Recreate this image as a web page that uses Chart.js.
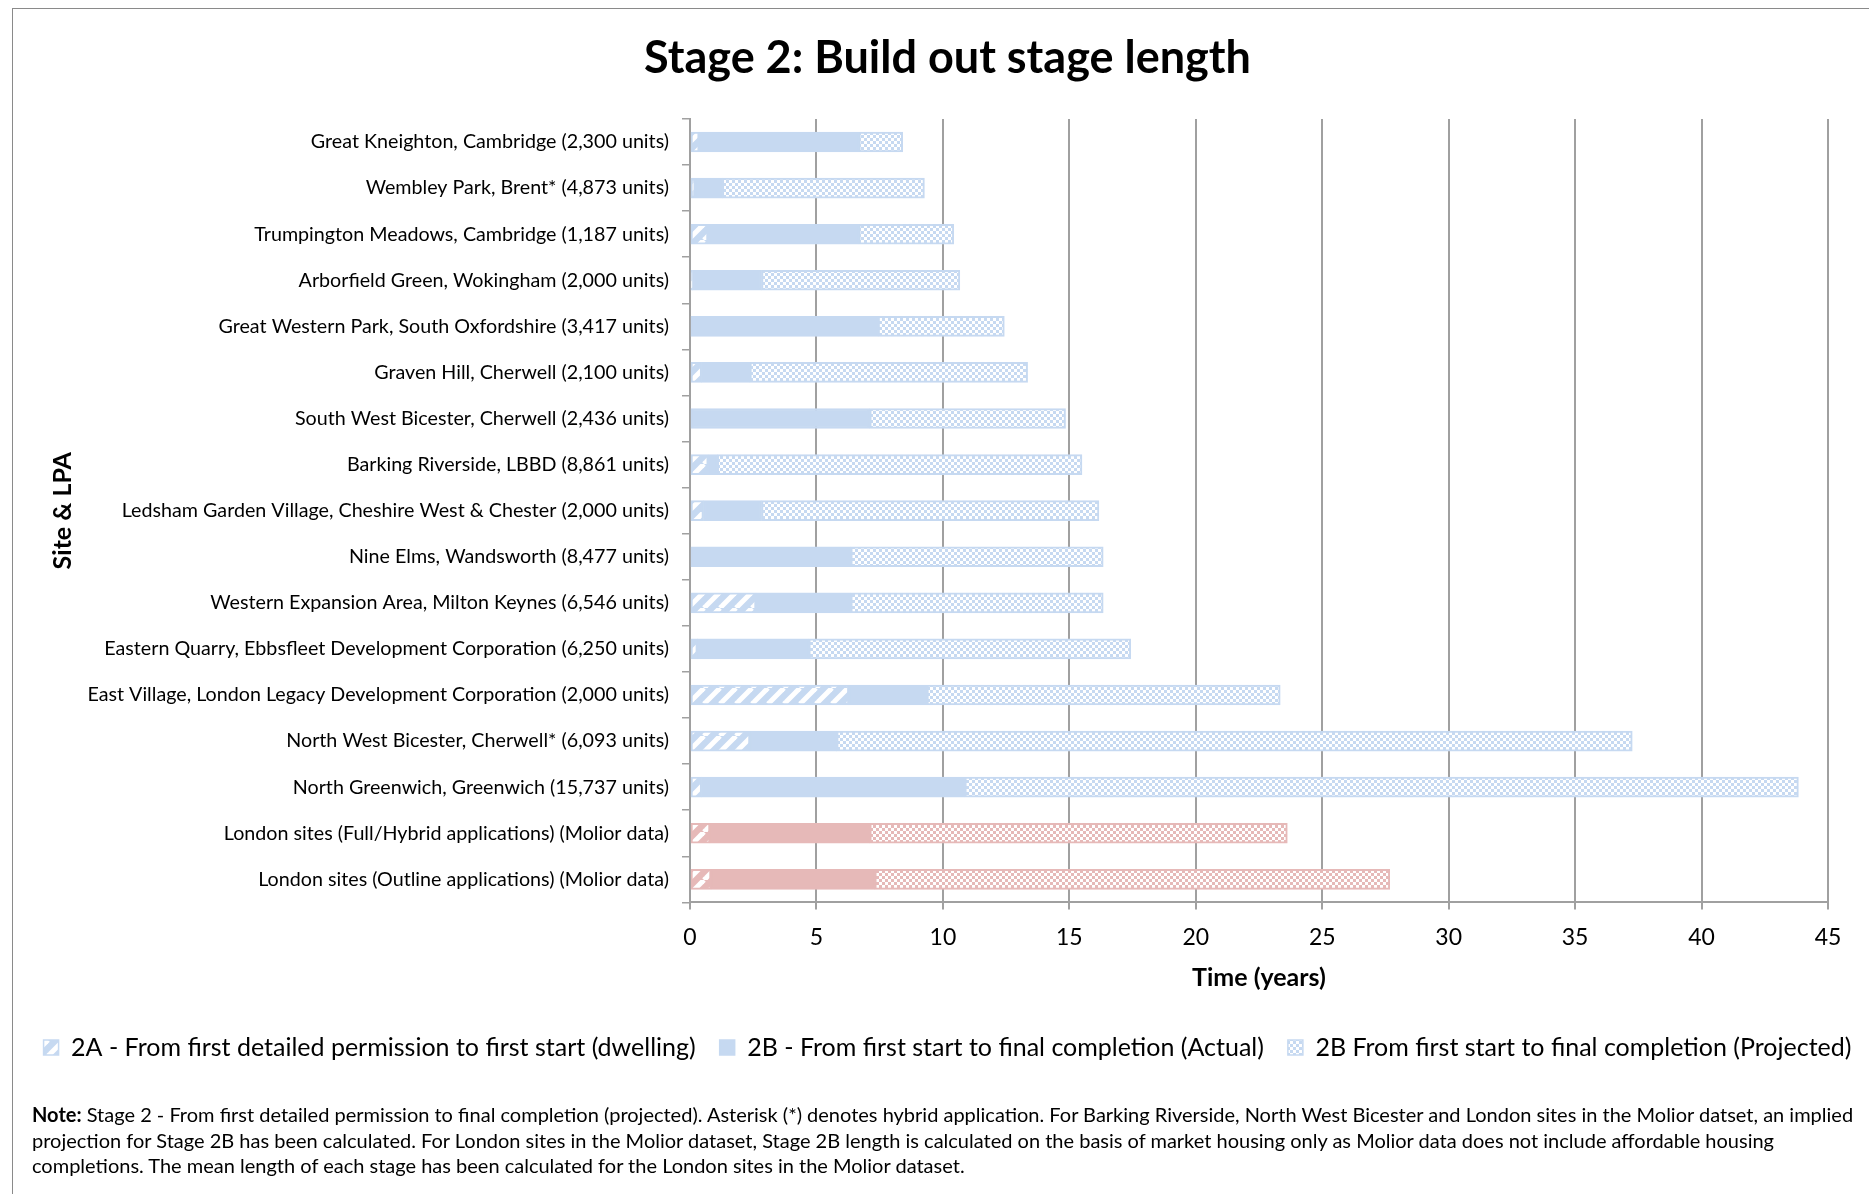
<!DOCTYPE html>
<html><head><meta charset="utf-8">
<script src="https://cdn.jsdelivr.net/npm/chart.js@4.4.1/dist/chart.umd.min.js"></script>
<style>
html,body{margin:0;padding:0;background:#fff;}
#wrap{position:relative;width:1869px;height:1194px;overflow:hidden;background:#fff;}
#frame{position:absolute;left:12px;top:8px;width:2000px;height:2000px;border-top:1.5px solid #8a8a8a;border-left:1.5px solid #8a8a8a;}
canvas{position:absolute;left:0;top:0;}
#note{position:absolute;left:32px;top:1102px;font-family:Lato;font-size:20px;line-height:25.5px;color:#000;white-space:nowrap;}
</style></head><body>
<div id="wrap"><div id="frame"></div><canvas id="c" width="1869" height="1194"></canvas>
<div id="note"><b>Note:</b> Stage 2 - From first detailed permission to final completion (projected). Asterisk (*) denotes hybrid application. For Barking Riverside, North West Bicester and London sites in the Molior datset, an implied<br>projection for Stage 2B has been calculated. For London sites in the Molior dataset, Stage 2B length is calculated on the basis of market housing only as Molior data does not include affordable housing<br>completions. The mean length of each stage has been calculated for the London sites in the Molior dataset.</div>
</div>
<script>
const categories = [
  "Great Kneighton, Cambridge (2,300 units)",
  "Wembley Park, Brent* (4,873 units)",
  "Trumpington Meadows, Cambridge (1,187 units)",
  "Arborfield Green, Wokingham (2,000 units)",
  "Great Western Park, South Oxfordshire (3,417 units)",
  "Graven Hill, Cherwell (2,100 units)",
  "South West Bicester, Cherwell (2,436 units)",
  "Barking Riverside, LBBD (8,861 units)",
  "Ledsham Garden Village, Cheshire West & Chester (2,000 units)",
  "Nine Elms, Wandsworth (8,477 units)",
  "Western Expansion Area, Milton Keynes (6,546 units)",
  "Eastern Quarry, Ebbsfleet Development Corporation (6,250 units)",
  "East Village, London Legacy Development Corporation (2,000 units)",
  "North West Bicester, Cherwell* (6,093 units)",
  "North Greenwich, Greenwich (15,737 units)",
  "London sites (Full/Hybrid applications) (Molior data)",
  "London sites (Outline applications) (Molior data)"
];
const stage2A          = [0.36, 0.20, 0.71, 0.10, 0.00, 0.46, 0.00, 0.72, 0.53, 0.00, 2.61, 0.29, 6.28, 2.37, 0.46, 0.79, 0.83];
const stage2BActual    = [6.32, 1.08, 5.97, 2.73, 7.44, 1.91, 7.11, 0.36, 2.30, 6.36, 3.75, 4.41, 3.09, 3.43, 10.41, 6.32, 6.48];
const stage2BProjected = [1.73, 7.99, 3.75, 7.84, 4.99, 10.98, 7.74, 14.42, 13.34, 9.98, 9.98, 12.73, 13.97, 31.46, 32.96, 16.51, 20.36];
const seriesNames = [
  "2A - From first detailed permission to first start (dwelling)",
  "2B - From first start to final completion (Actual)",
  "2B From first start to final completion (Projected)"
];
const xTickValues = [0, 5, 10, 15, 20, 25, 30, 35, 40, 45];

const BLUE = '#C6D9F1', PINK = '#E6B9B8';
const isMolior = i => categories[i] !== undefined && categories[i].indexOf('Molior') >= 0;

function diagPattern(col) {
  const c = document.createElement('canvas'); c.width = 16; c.height = 16;
  const g = c.getContext('2d');
  g.fillStyle = col; g.fillRect(0, 0, 16, 16);
  g.strokeStyle = '#fff'; g.lineWidth = 5;
  for (const o of [-16, 0, 16]) { g.beginPath(); g.moveTo(o, 16); g.lineTo(o + 16, 0); g.stroke(); }
  return g.createPattern(c, 'repeat');
}
function checkPattern(col) {
  const c = document.createElement('canvas'); c.width = 6; c.height = 6;
  const g = c.getContext('2d');
  g.fillStyle = '#fff'; g.fillRect(0, 0, 6, 6);
  g.fillStyle = col; g.fillRect(0, 0, 3, 3); g.fillRect(3, 3, 3, 3);
  return g.createPattern(c, 'repeat');
}
const pat = {
  blue: [diagPattern(BLUE), BLUE, checkPattern(BLUE)],
  pink: [diagPattern(PINK), PINK, checkPattern(PINK)]
};
const bg = k => ctx => (isMolior(ctx.dataIndex) ? pat.pink : pat.blue)[k];
const bd = ctx => isMolior(ctx.dataIndex) ? PINK : BLUE;

const seriesData = [stage2A, stage2BActual, stage2BProjected];
const datasets = seriesData.map((d, k) => ({
  label: seriesNames[k],
  data: d,
  backgroundColor: bg(k),
  borderColor: bd,
  borderWidth: 2,
  borderSkipped: false,
  barThickness: 20
}));

const GRID = '#A0A0A0';
const chart = new Chart(document.getElementById('c'), {
  type: 'bar',
  data: { labels: categories, datasets },
  options: {
    indexAxis: 'y',
    responsive: false,
    animation: false,
    devicePixelRatio: 1,
    layout: { padding: { left: 13, right: -13, top: 0, bottom: 124 } },
    scales: {
      x: {
        stacked: true, min: 0, max: 45,
        afterBuildTicks: s => { s.ticks = xTickValues.map(v => ({ value: v })); },
        ticks: { font: { family: 'Lato', size: 23 }, color: '#000', padding: 14 },
        grid: { color: GRID, lineWidth: 2, tickLength: 7 },
        border: { color: GRID, width: 2 },
        title: { display: true, text: 'Time (years)', font: { family: 'Lato', size: 25, weight: 'bold' }, color: '#000', padding: { top: -2, bottom: 18 } }
      },
      y: {
        stacked: true,
        afterFit: s => { s.width = 677; },
        ticks: { font: { family: 'Lato', size: 19.7 }, color: '#000', padding: 13, autoSkip: false },
        grid: { drawOnChartArea: false, color: GRID, lineWidth: 1.5, tickLength: 8 },
        border: { color: GRID, width: 2 },
        title: { display: true, text: 'Site & LPA', font: { family: 'Lato', size: 25, weight: 'bold' }, color: '#000', padding: { top: 35, bottom: 4 } }
      },
      yRight: {
        type: 'category', position: 'right', display: true,
        afterFit: s => { s.width = 54; },
        grid: { display: false }, ticks: { display: false }, border: { display: false }
      }
    },
    plugins: {
      title: { display: true, text: 'Stage 2: Build out stage length', font: { family: 'Lato', size: 45, weight: 'bold' }, color: '#000', padding: { top: 31, bottom: 34 } },
      legend: {
        position: 'bottom',
        labels: {
          font: { family: 'Lato', size: 25 }, color: '#000', boxWidth: 15, boxHeight: 15, padding: 24,
          generateLabels: ch => Chart.defaults.plugins.legend.labels.generateLabels(ch).map((l, k) => Object.assign(l, { fillStyle: pat.blue[k], strokeStyle: BLUE, lineWidth: 1.5 }))
        }
      },
      tooltip: { enabled: false }
    }
  }
});
</script>
</body></html>
